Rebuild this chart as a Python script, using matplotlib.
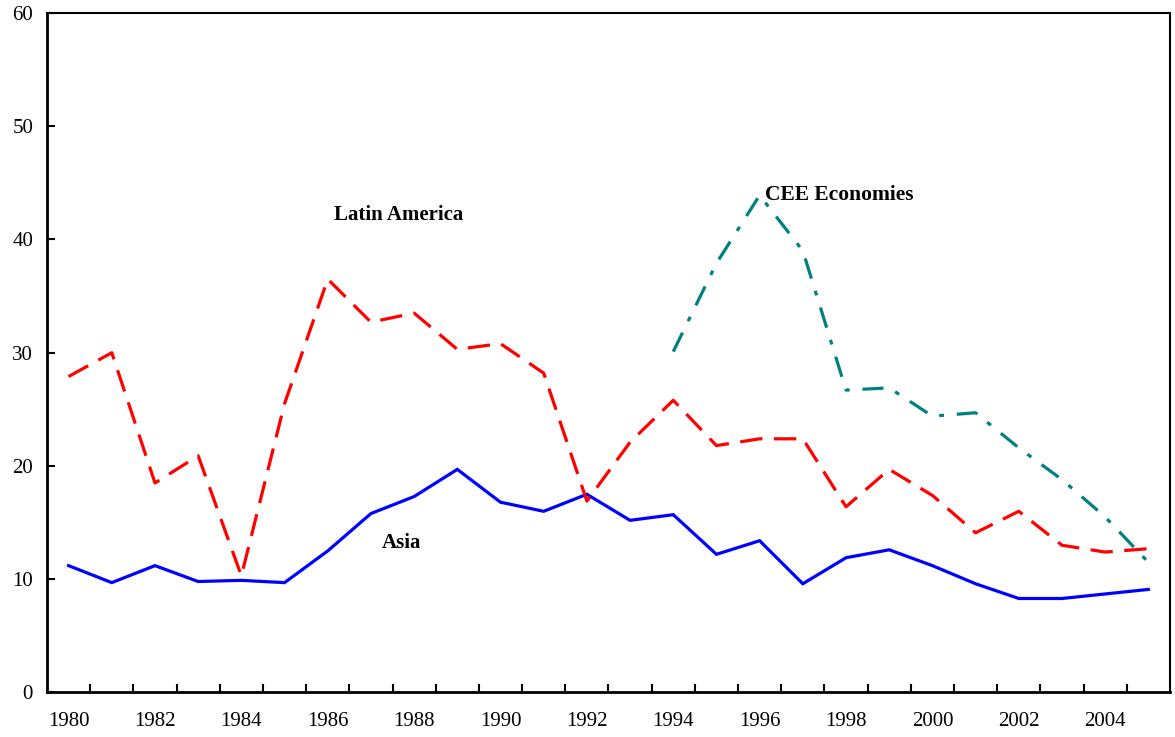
import numpy as np
import matplotlib
matplotlib.use("Agg")
import matplotlib.pyplot as plt

# ------------------------------------------
# Data
# ------------------------------------------
years = list(range(1980, 2006))

asia = [11.2, 9.7, 11.2, 9.8, 9.9, 9.7, 12.5, 15.8, 17.3, 19.7,
        16.8, 16.0, 17.5, 15.2, 15.7, 12.2, 13.4, 9.6, 11.9, 12.6,
        11.2, 9.6, 8.3, 8.3, 8.7, 9.1]

latin_america = [27.9, 30.0, 18.5, 20.9, 10.3, 25.5, 36.5, 32.7, 33.5, 30.3,
                 30.8, 28.2, 16.9, 22.1, 25.8, 21.8, 22.4, 22.4, 16.4, 19.7,
                 17.4, 14.1, 16.0, 13.0, 12.4, 12.7]

cee_years = list(range(1994, 2006))
cee = [30.1, 37.9, 43.9, 39.0, 26.7, 26.9, 24.4, 24.7, 21.6, 18.8, 15.5, 11.5]

tick_years = list(range(1980, 2006, 2))

# ------------------------------------------
# Plot
# ------------------------------------------
plt.rcParams["font.family"] = ["Liberation Serif", "DejaVu Serif"]

fig = plt.figure(figsize=(11.75, 7.37), dpi=100)
ax = fig.add_axes([0.04, 0.0604, 0.9557, 0.922])

x = np.arange(len(years))
x_cee = np.array([years.index(y) for y in cee_years])

ax.plot(x, asia, color="#0000FF", linewidth=2.3, solid_joinstyle="miter")
ax.plot(x, latin_america, color="#FF0000", linewidth=2.3,
        linestyle=(0, (7, 3.6)))
ax.plot(x_cee, cee, color="#008080", linewidth=2.3,
        linestyle=(0, (6.6, 4.0, 1.5, 4.0)))

# labels on the chart
ax.text(7.65, 42.2, "Latin America", fontsize=15, fontweight="bold",
        ha="center", va="center")
ax.text(7.7, 13.2, "Asia", fontsize=15, fontweight="bold",
        ha="center", va="center")
ax.text(16.12, 43.9, "CEE Economies", fontsize=15.5, fontweight="bold",
        ha="left", va="center")

# axes
ax.set_xlim(-0.5, len(years) - 0.5)
ax.set_ylim(0, 60)
ax.set_yticks(range(0, 61, 10))
ax.tick_params(axis="y", direction="in", length=6, width=1.5,
               labelsize=15, pad=10)

ax.set_xticks([years.index(y) for y in tick_years])
ax.set_xticklabels([str(y) for y in tick_years])
ax.set_xticks(np.arange(0.5, len(years) - 1, 1.0), minor=True)
ax.tick_params(axis="x", which="major", length=0, labelsize=15, pad=14)
ax.tick_params(axis="x", which="minor", direction="in", length=6, width=1.5)

for side in ["left", "bottom"]:
    ax.spines[side].set_linewidth(2)
for side in ["top", "right"]:
    ax.spines[side].set_linewidth(1.5)

fig.savefig("out.png", dpi=100)
